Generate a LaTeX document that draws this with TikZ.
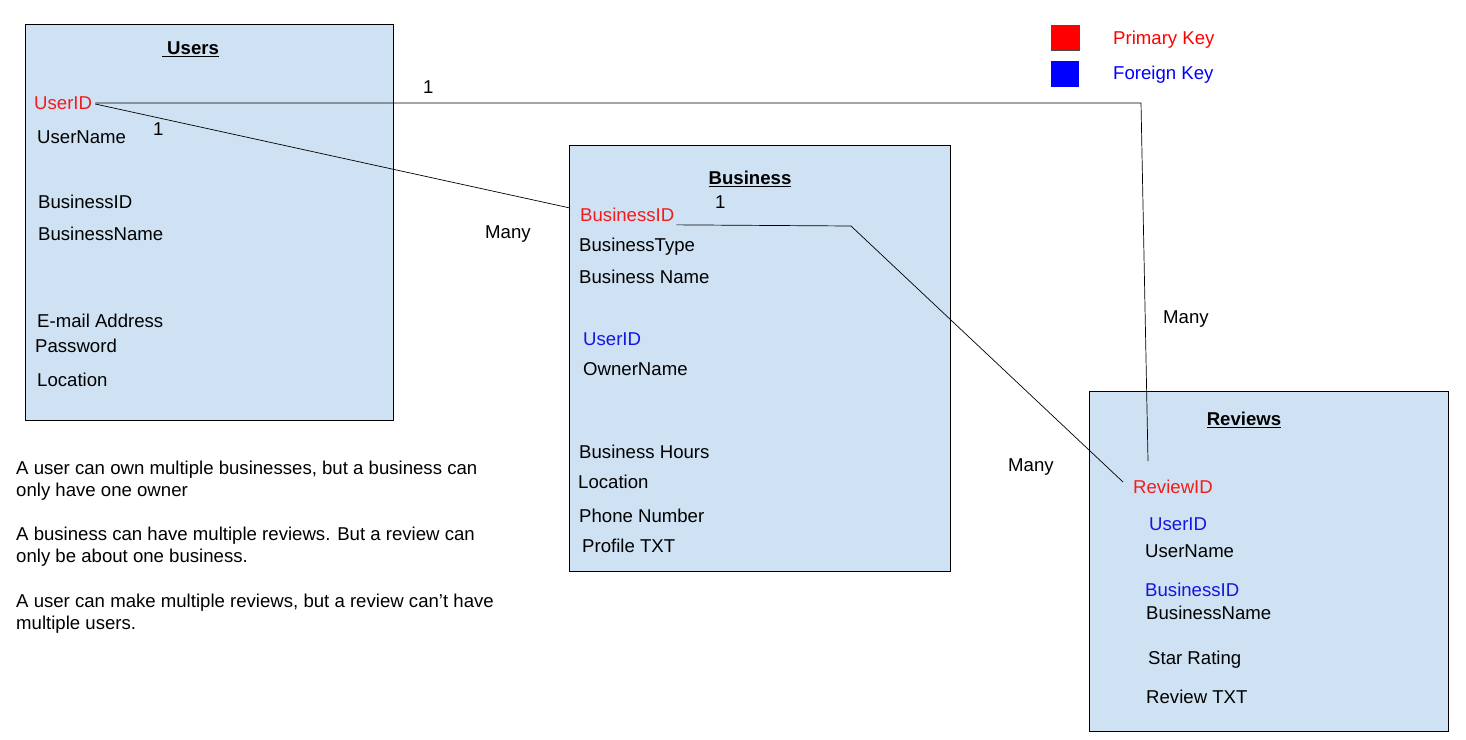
\documentclass[tikz,border=0pt]{standalone}
\usepackage{fontspec}
\setmainfont{Liberation Sans}
\begin{document}
\begin{tikzpicture}[x=1pt,y=-1pt,
  tbl/.style={draw=black, line width=0.8pt, fill=boxblue},
  field/.style={anchor=west, inner sep=0pt, text height=13.3pt, text depth=0pt, font=\fontsize{18.6}{22}\selectfont},
  ttl/.style={anchor=center, inner sep=0pt, text height=13.3pt, text depth=0pt, font=\fontsize{18.6}{22}\selectfont\bfseries},
  pk/.style={field, text=pkred},
  fk/.style={field, text=fkblue},
  lbl/.style={field},
  conn/.style={draw=black, line width=0.7pt}
]
\definecolor{boxblue}{HTML}{CFE2F3}
\definecolor{pkred}{HTML}{F21C1C}
\definecolor{fkblue}{HTML}{1515E0}
\useasboundingbox (0,0) rectangle (1466,739);
\fill[white] (0,0) rectangle (1466,739);

% tables
\path[tbl] (25,24) rectangle (393,420);
\path[tbl] (569,145) rectangle (950,571);
\path[tbl] (1089,391) rectangle (1448,731);

% legend
\node[draw=black!70, line width=0.6pt, fill=red, minimum width=28pt, minimum height=25pt, inner sep=0pt] (legpk) at (1065,38) {};
\node[fill=blue, minimum width=28pt, minimum height=26pt, inner sep=0pt] (legfk) at (1065,74) {};
\node[pk, text=red] (legpkt) at (1113,38) {Primary Key};
\node[fk, text=blue] (legfkt) at (1113,73) {Foreign Key};

% Users
\node[ttl] (usersT) at (190.5,48) {\underline{\ Users}};
\node[pk] (uid) at (34,103) {UserID};
\node[field] (uname) at (37,137) {UserName};
\node[field] (ubid) at (38,202) {BusinessID};
\node[field] (ubname) at (38,234) {BusinessName};
\node[field] (umail) at (37,321) {E-mail Address};
\node[field] (upass) at (35,346) {Password};
\node[field] (uloc) at (37,380) {Location};

% Business
\node[ttl] (busT) at (750,178) {\underline{Business}};
\node[pk] (bid) at (580,215) {BusinessID};
\node[field] (btype) at (579,245) {BusinessType};
\node[field] (bname) at (579,277) {Business Name};
\node[fk] (buid) at (583,339) {UserID};
\node[field] (bowner) at (583,369) {OwnerName};
\node[field] (bhours) at (579,452) {Business Hours};
\node[field] (bloc) at (578,482) {Location};
\node[field] (bphone) at (579,516) {Phone Number};
\node[field] (bprof) at (582,546) {Profile TXT};

% Reviews
\node[ttl] (revT) at (1244,419) {\underline{Reviews}};
\node[pk] (rid) at (1133,487) {ReviewID};
\node[fk] (ruid) at (1149,524) {UserID};
\node[field] (runame) at (1145,551) {UserName};
\node[fk] (rbid) at (1145,590) {BusinessID};
\node[field] (rbname) at (1146,613) {BusinessName};
\node[field] (rstar) at (1148,658) {Star Rating};
\node[field] (rtxt) at (1146,697) {Review TXT};

% cardinality labels
\node[lbl] (l1a) at (423,87) {1};
\node[lbl] (l1b) at (153,129) {1};
\node[lbl] (lmanyA) at (485,232) {Many};
\node[lbl] (l1c) at (715,202) {1};
\node[lbl] (lmanyB) at (1163,317) {Many};
\node[lbl] (lmanyC) at (1008,465) {Many};

% notes
\node[field] (n1) at (16,468) {A user can own multiple businesses, but a business can};
\node[field] (n2) at (16,490) {only have one owner};
\node[field] (n3) at (16,534) {A business can have multiple reviews. But a review can};
\node[field] (n4) at (16,556) {only be about one business.};
\node[field] (n5) at (16,601) {A user can make multiple reviews, but a review can’t have};
\node[field] (n6) at (16,623) {multiple users.};

% connector coordinates
\coordinate (c1) at (1141,103);
\coordinate (c1end) at (1148,461);
\coordinate (c2end) at (570,208);
\coordinate (c3) at (851,226);
\coordinate (c3end) at (1123,482);

% connectors
\draw[conn] ([xshift=3pt]uid.east) -- (c1) -- (c1end);
\draw[conn] ([xshift=3pt,yshift=-1pt]uid.east) -- (c2end);
\draw[conn] ([xshift=2pt,yshift=-3pt]bid.south east) -- (c3) -- (c3end);
\end{tikzpicture}
\end{document}
